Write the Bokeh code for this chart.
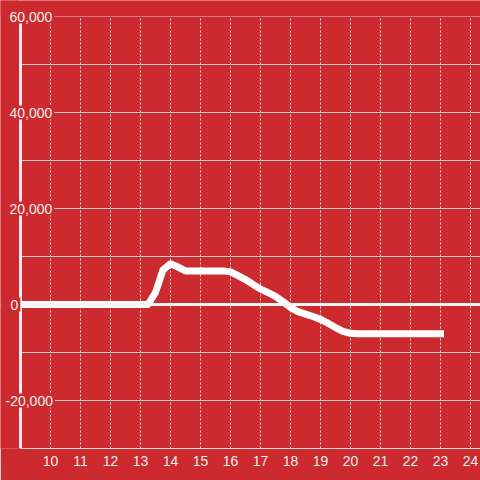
from bokeh.plotting import figure
from bokeh.models import Range1d, FixedTicker, Span, Label, BoxAnnotation
from bokeh.embed import file_html
from bokeh.resources import INLINE

# ---- data ----
hours = [9, 13.25, 13.5, 13.75, 14.0, 14.25, 14.5, 15.0, 15.5, 15.75, 16.0, 16.25, 16.5,
         16.75, 17.0, 17.25, 17.5, 17.75, 18.0, 18.25, 18.5, 18.75, 19.0, 19.25, 19.5,
         19.75, 20.0, 20.25, 23.0]
values = [0, 0, 2500, 7200, 8500, 7800, 7000, 7000, 7000, 7000, 6800, 6000, 5200,
          4200, 3200, 2500, 1700, 600, -600, -1500, -2000, -2500, -3100, -3900, -4800,
          -5600, -6000, -6100, -6100]
x_ticks = [10, 11, 12, 13, 14, 15, 16, 17, 18, 19, 20, 21, 22, 23, 24]
y_grid = [-20000, -10000, 10000, 20000, 30000, 40000, 50000, 60000]
y_labels = [-20000, 0, 20000, 40000, 60000]
x_min, y_min, y_max = 9, -30000, 60000

RED = "#cc2a2e"
TXT = "#eeeeee"
FONT = "Liberation Sans"

x_end = x_min + 460 / 30

# frame covers the page from x=0 to 480 and y=0 to 448; 30 px per hour, 96 px per 20,000
p = figure(width=480, height=480, output_backend="svg", toolbar_location=None,
           x_range=Range1d(x_min - 20 / 30, x_end),
           y_range=Range1d(y_min, y_max + 16 * 20000 / 96),
           y_axis_location=None,
           min_border_left=0, min_border_right=0, min_border_top=0, min_border_bottom=32,
           background_fill_color=RED, border_fill_color=RED, outline_line_color=None)

# x axis
xa = p.xaxis[0]
xa.ticker = FixedTicker(ticks=x_ticks)
xa.bounds = (x_min, x_end)
xa.axis_line_color = "#dddddd"
xa.axis_line_width = 1
xa.major_tick_out = 0
xa.major_tick_in = 0
xa.minor_tick_out = 0
xa.minor_tick_in = 0
xa.major_label_text_color = TXT
xa.major_label_text_font = FONT
xa.major_label_text_font_size = "14px"
xa.major_label_standoff = 7

# grids
p.xgrid.ticker = FixedTicker(ticks=x_ticks)
p.xgrid.grid_line_color = "#dddddd"
p.xgrid.grid_line_dash = "2 2"
p.xgrid.grid_line_width = 1
p.ygrid.ticker = FixedTicker(ticks=y_grid)
p.ygrid.grid_line_color = "#cccccc"
p.ygrid.grid_line_width = 1

# data line
p.line(hours, values, line_color="white", line_width=7, line_join="round", line_cap="square")

# zero line
p.add_layout(Span(location=0, dimension="width", line_color="#f5f5f5", line_width=3))
# hide everything left of the y axis
p.add_layout(BoxAnnotation(right=x_min, fill_color=RED, fill_alpha=1.0, line_color=None))
# y axis line
p.add_layout(Span(location=x_min, dimension="height", line_color="#eeeeee", line_width=3))
# hide everything above the top of the scale
p.add_layout(BoxAnnotation(bottom=y_max, fill_color=RED, fill_alpha=1.0, line_color=None))

# y labels with background
for v in y_labels:
    txt = f"{v:,}"
    off = -17 if v < 0 else (-12 if v == 0 else -13)
    p.add_layout(Label(x=x_min, y=v, text=txt, x_offset=off, text_align="left",
                       text_baseline="middle", text_color=TXT, text_font=FONT,
                       text_font_size="14px", background_fill_color=RED,
                       background_fill_alpha=1.0, padding=2))

html = file_html(p, INLINE)
open("out.html", "w").write(html)
